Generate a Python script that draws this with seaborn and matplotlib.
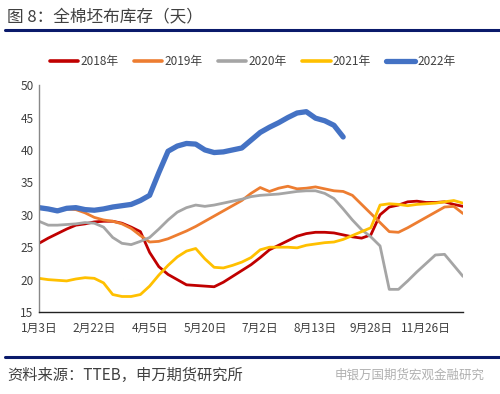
import numpy as np
import matplotlib
matplotlib.use("Agg")
import matplotlib.pyplot as plt
from matplotlib.lines import Line2D
import seaborn as sns

# weekly category axis, labelled every 6th week
tick_pos = [0, 6, 12, 18, 24, 30, 36, 42]
tick_labels = ["1月3日", "2月22日", "4月5日", "5月20日", "7月2日", "8月13日", "9月28日", "11月26日"]

y2018 = [25.6, 26.4, 27.1, 27.8, 28.4, 28.6, 28.9, 29.0, 29.0, 28.7, 28.1, 27.4, 24.2, 22.0, 20.8, 20.0,
         19.2, 19.1, 19.0, 18.9, 19.6, 20.5, 21.4, 22.3, 23.4, 24.6, 25.3, 26.0, 26.7, 27.1, 27.3, 27.3,
         27.2, 26.9, 26.6, 26.4, 26.9, 30.0, 31.2, 31.5, 32.0, 32.1, 31.9, 31.9, 32.0, 31.6, 31.3]
y2019 = [31.2, 30.9, 30.8, 30.9, 30.8, 30.3, 29.6, 29.2, 29.0, 28.6, 27.9, 26.8, 25.8, 25.9, 26.3, 26.9,
         27.5, 28.2, 29.0, 29.8, 30.6, 31.4, 32.2, 33.3, 34.2, 33.6, 34.1, 34.4, 34.0, 34.1, 34.3, 34.0,
         33.7, 33.6, 33.0, 31.6, 30.2, 28.8, 27.4, 27.3, 28.0, 28.8, 29.6, 30.4, 31.2, 31.3, 30.2]
y2020 = [29.0, 28.4, 28.4, 28.5, 28.6, 28.8, 28.7, 28.1, 26.5, 25.6, 25.4, 25.9, 26.5, 27.8, 29.2, 30.4,
         31.1, 31.5, 31.3, 31.5, 31.8, 32.1, 32.4, 32.8, 33.0, 33.1, 33.2, 33.4, 33.6, 33.7, 33.7, 33.3,
         32.5, 30.9, 29.2, 27.7, 26.6, 25.2, 18.5, 18.5, 19.8, 21.2, 22.5, 23.8, 23.9, 22.2, 20.5]
y2021 = [20.2, 20.0, 19.9, 19.8, 20.1, 20.3, 20.2, 19.5, 17.7, 17.4, 17.4, 17.7, 19.0, 20.7, 22.2, 23.5,
         24.4, 24.8, 23.2, 21.9, 21.8, 22.2, 22.7, 23.4, 24.6, 25.0, 25.0, 25.0, 24.9, 25.3, 25.5, 25.7,
         25.8, 26.2, 26.8, 27.4, 28.0, 31.5, 31.7, 31.6, 31.4, 31.6, 31.7, 31.8, 32.0, 32.2, 31.8]
y2022 = [31.1, 30.9, 30.6, 31.0, 31.1, 30.8, 30.7, 30.9, 31.2, 31.4, 31.6, 32.2, 33.0, 36.5, 39.8, 40.6,
         41.0, 40.9, 40.0, 39.6, 39.7, 40.0, 40.3, 41.5, 42.7, 43.5, 44.2, 45.0, 45.7, 45.9, 44.9, 44.5,
         43.8, 42.0]

series = [("2018年", y2018, "#C00000", 2.0),
          ("2019年", y2019, "#ED7D31", 2.0),
          ("2020年", y2020, "#A5A5A5", 2.0),
          ("2021年", y2021, "#FFC000", 2.0),
          ("2022年", y2022, "#4472C4", 3.8)]

sns.set_style("white")
plt.rcParams['font.family'] = ['Noto Sans CJK SC', 'DejaVu Sans']

fig = plt.figure(figsize=(5, 3.94), dpi=100)
ax = fig.add_axes([0.078, 0.208, 0.848, 0.576])

for name, vals, color, lw in series:
    sns.lineplot(x=np.arange(len(vals)), y=vals, color=color, linewidth=lw, label=name, ax=ax)

ax.set_xlim(0, 46)
ax.set_ylim(15, 50)
ax.set_yticks(range(15, 51, 5))
ax.set_xticks(tick_pos)
ax.set_xticklabels(tick_labels)
ax.tick_params(axis="both", direction="in", length=3, labelsize=8.5, colors="#404040")
ax.tick_params(axis="x", color="#888888", pad=7)
ax.tick_params(axis="y", color="#888888", pad=4)
for s in ["top", "right"]:
    ax.spines[s].set_visible(False)
ax.spines["left"].set_color("#888888")
ax.spines["bottom"].set_color("#222222")
ax.spines["left"].set_linewidth(1.0)
ax.spines["bottom"].set_linewidth(1.0)
ax.set_xlabel("")
ax.set_ylabel("")

leg = ax.legend(loc="center", bbox_to_anchor=(0.505, 0.843), bbox_transform=fig.transFigure,
                ncol=5, frameon=False, fontsize=8.5, handlelength=2.4, columnspacing=1.3,
                handletextpad=0.2, labelcolor="#404040")
for h in leg.get_lines()[:4]:
    h.set_linewidth(2.6)

fig.text(0.014, 0.957, "图 8：全棉坯布库存（天）", fontsize=12, color="#404040", va="center")
fig.add_artist(Line2D([0.01, 1.0], [0.924, 0.924], color="#0A1A6B", linewidth=2.2))
fig.add_artist(Line2D([0.01, 1.0], [0.094, 0.094], color="#0A1A6B", linewidth=2.2))
fig.text(0.014, 0.048, "资料来源：TTEB，申万期货研究所", fontsize=11, color="#404040", va="center")
fig.text(0.97, 0.048, "申银万国期货宏观金融研究", fontsize=9, color="#B0B0B0", va="center", ha="right")

fig.savefig("out.png", dpi=100)
